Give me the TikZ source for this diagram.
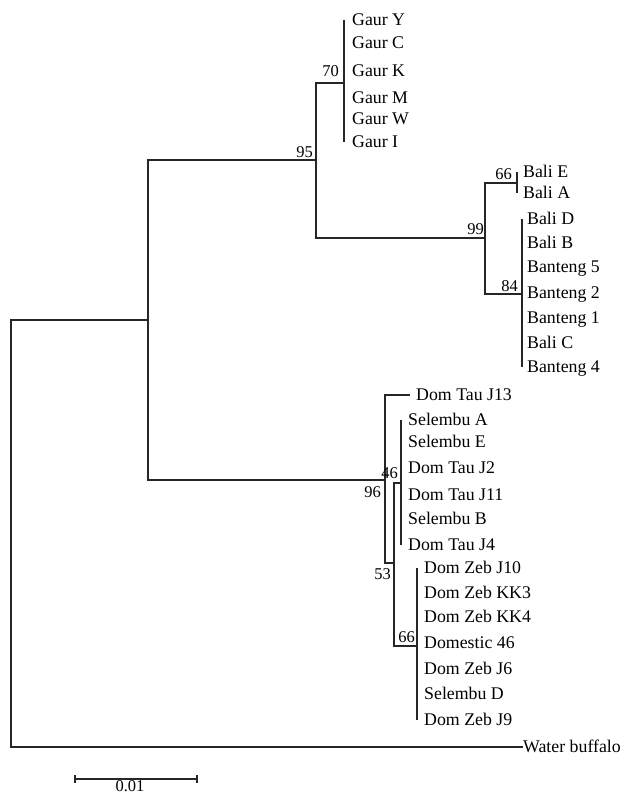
\documentclass[tikz,border=0pt]{standalone}
\usepackage{fontspec}
\setmainfont{Liberation Serif}
\begin{document}
\begin{tikzpicture}[x=1pt,y=-1pt,
  br/.style={line width=1.1pt, draw=black!85},
  leaf/.style={anchor=west, inner sep=0pt, font=\fontsize{17.8}{20}\selectfont, text height=11.8pt, text depth=0pt, text=black},
  bs/.style={anchor=east, inner sep=0pt, font=\fontsize{16.5}{18}\selectfont, text height=10.9pt, text depth=0pt, text=black}]
\useasboundingbox (0,0) rectangle (626,794);
% internal nodes
\coordinate (root) at (11,533);
\coordinate (nA) at (148,320);
\coordinate (n95) at (316,160);
\coordinate (n70) at (344,83);
\coordinate (n99) at (485,238);
\coordinate (n66a) at (517,183);
\coordinate (n84) at (522,294);
\coordinate (n96) at (385,480);
\coordinate (n53) at (394,563);
\coordinate (n46) at (401,483);
\coordinate (n66b) at (417,646);
% leaves
\node[leaf] (gY) at (352,20) {Gaur Y};
\node[leaf] (gC) at (352,43) {Gaur C};
\node[leaf] (gK) at (352,71) {Gaur K};
\node[leaf] (gM) at (352,98) {Gaur M};
\node[leaf] (gW) at (352,119) {Gaur W};
\node[leaf] (gI) at (352,142) {Gaur I};
\node[leaf] (bE) at (523,172) {Bali E};
\node[leaf] (bA) at (523,193) {Bali A};
\node[leaf] (bD) at (527,219) {Bali D};
\node[leaf] (bB) at (527,243) {Bali B};
\node[leaf] (t5) at (527,267) {Banteng 5};
\node[leaf] (t2) at (527,293) {Banteng 2};
\node[leaf] (t1) at (527,318) {Banteng 1};
\node[leaf] (bC) at (527,343) {Bali C};
\node[leaf] (t4) at (527,367) {Banteng 4};
\node[leaf] (j13) at (416,395) {Dom Tau J13};
\node[leaf] (sA) at (408,420) {Selembu A};
\node[leaf] (sE) at (408,442) {Selembu E};
\node[leaf] (j2) at (408,468) {Dom Tau J2};
\node[leaf] (j11) at (408,495) {Dom Tau J11};
\node[leaf] (sB) at (408,519) {Selembu B};
\node[leaf] (j4) at (408,545) {Dom Tau J4};
\node[leaf] (z10) at (424,568) {Dom Zeb J10};
\node[leaf] (kk3) at (424,593) {Dom Zeb KK3};
\node[leaf] (kk4) at (424,617) {Dom Zeb KK4};
\node[leaf] (d46) at (424,643) {Domestic 46};
\node[leaf] (z6) at (424,669) {Dom Zeb J6};
\node[leaf] (sD) at (424,694) {Selembu D};
\node[leaf] (z9) at (424,720) {Dom Zeb J9};
\node[leaf] (wb) at (523,747) {Water buffalo};
% branches
\draw[br] (root) |- (nA);
\draw[br] (root) |- (wb.west);
\draw[br] (nA) |- (n95);
\draw[br] (nA) |- (n96);
\draw[br] (n95) |- (n70);
\draw[br] (n95) |- (n99);
\draw[br] (n99) |- (n66a);
\draw[br] (n99) |- (n84);
\draw[br] (n96) |- ([xshift=-6pt]j13.west);
\draw[br] (n96) |- (n53);
\draw[br] (n53) |- (n46);
\draw[br] (n53) |- (n66b);
% polytomy bars
\draw[br] (n70 |- gY.west) -- (n70 |- gI.west);
\draw[br] (n66a |- bE.west) -- (n66a |- bA.west);
\draw[br] (n84 |- bD.west) -- (n84 |- t4.west);
\draw[br] (n46 |- sA.west) -- (n46 |- j4.west);
\draw[br] (n66b |- z10.west) -- (n66b |- z9.west);
% bootstrap values
\node[bs] (l70) at (339,71) {70};
\node[bs] (l95) at (313,152) {95};
\node[bs] (l66a) at (512,174) {66};
\node[bs] (l99) at (484,229) {99};
\node[bs] (l84) at (518,286) {84};
\node[bs] (l46) at (398,473) {46};
\node[bs] (l96) at (381,492) {96};
\node[bs] (l53) at (391,574) {53};
\node[bs] (l66b) at (415,637) {66};
% scale bar
\coordinate (sb1) at (75,779);
\coordinate (sb2) at (197,779);
\draw[br] (sb1) -- (sb2);
\draw[br] ([yshift=4pt]sb1) -- ([yshift=-4pt]sb1);
\draw[br] ([yshift=4pt]sb2) -- ([yshift=-4pt]sb2);
\node[bs, anchor=center] (sbl) at (130,786) {0.01};
\end{tikzpicture}
\end{document}
